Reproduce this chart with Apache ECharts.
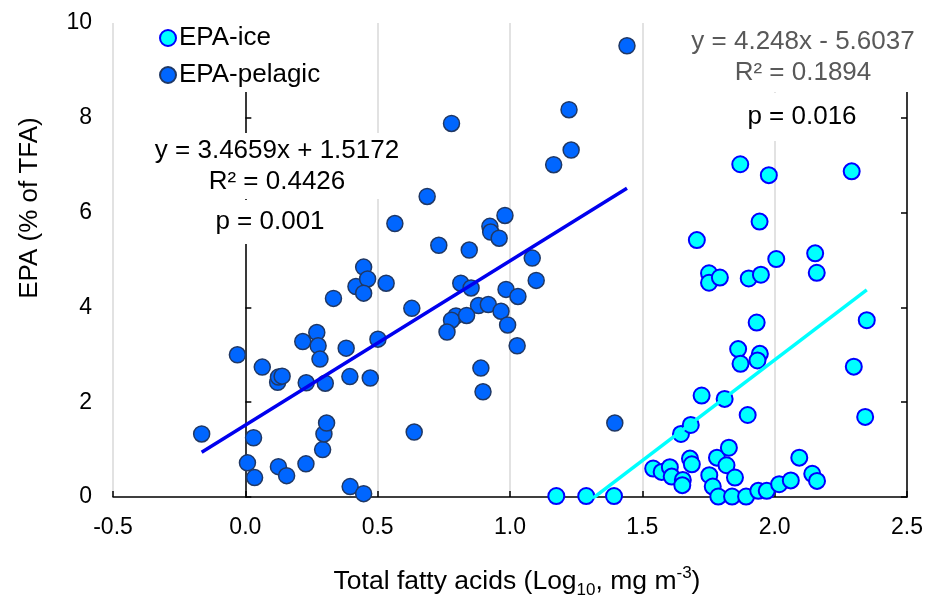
<!DOCTYPE html>
<html>
<head>
<meta charset="utf-8">
<title>EPA vs total fatty acids</title>
<script src="https://cdn.jsdelivr.net/npm/echarts@6/dist/echarts.min.js"></script>
<style>
  html, body { margin: 0; padding: 0; background: #fff; }
  #chart { width: 926px; height: 604px; }
</style>
</head>
<body>
<div id="chart"></div>
<script>
// EPA-pelagic: x = log10 TFA, y = EPA %
const pelagicX = [-0.165, -0.03, 0.031, 0.008, 0.035, 0.064, 0.122, 0.125, 0.139, 0.125, 0.156, 0.229,
  0.217, 0.270, 0.275, 0.282, 0.230, 0.302, 0.333, 0.292, 0.297, 0.307, 0.381, 0.395, 0.396, 0.447,
  0.472, 0.501, 0.447, 0.418, 0.462, 0.447, 0.532, 0.629, 0.638, 1.442, 1.223, 1.231, 1.165, 0.779,
  0.687, 0.565, 0.731, 0.846, 0.981, 0.924, 0.927, 0.959, 1.084, 1.099, 0.814, 0.853, 0.985, 1.030,
  0.881, 0.918, 0.796, 0.779, 0.836, 0.762, 0.966, 0.991, 1.027, 0.890, 0.898, 1.396];
const pelagicY = [1.33, 3.00, 1.25, 0.72, 0.41, 2.74, 2.42, 2.53, 2.55, 0.64, 0.45, 0.70,
  3.28, 3.47, 3.19, 2.91, 2.41, 2.40, 4.19, 1.00, 1.33, 1.56, 3.14, 2.54, 0.22, 0.07,
  2.51, 3.33, 4.85, 4.44, 4.60, 4.30, 4.51, 3.98, 1.37, 9.52, 8.17, 7.32, 7.01, 7.88,
  6.34, 5.77, 5.31, 5.21, 5.94, 5.71, 5.59, 5.46, 5.04, 4.57, 4.51, 4.41, 4.38, 4.23,
  4.04, 4.06, 3.82, 3.73, 3.83, 3.48, 3.92, 3.63, 3.19, 2.72, 2.22, 1.56];

// EPA-ice
const iceX = [1.175, 1.288, 1.393, 1.541, 1.573, 1.604, 1.611, 1.653, 1.651, 1.680, 1.687, 1.646,
  1.683, 1.724, 1.811, 1.898, 1.782, 1.818, 1.827, 1.753, 1.766, 1.787, 1.839, 1.850, 1.892,
  1.938, 1.970, 2.017, 2.061, 2.093, 2.142, 2.160, 2.342, 2.299, 2.348, 1.862, 1.944, 1.871,
  1.935, 1.932, 1.706, 1.752, 1.752, 1.793, 1.902, 1.948, 2.006, 2.153, 2.159, 1.943, 1.870,
  1.978, 2.291];
const iceY = [0.02, 0.02, 0.02, 0.60, 0.53, 0.63, 0.43, 0.36, 0.25, 0.81, 0.69, 1.33,
  1.52, 2.14, 2.07, 1.73, 0.83, 0.67, 1.04, 0.46, 0.22, 0.01, 0.01, 0.41, 0.01,
  0.13, 0.13, 0.27, 0.35, 0.83, 0.49, 0.34, 1.69, 2.75, 3.73, 3.12, 3.02, 2.81,
  2.88, 3.68, 5.42, 4.72, 4.52, 4.63, 4.61, 4.69, 5.02, 5.14, 4.73, 5.81, 7.02,
  6.79, 6.87];

// linear trend lines (slope, intercept) as given on the chart
const pelagicFit = [3.4659, 1.5172];
const iceFit = [4.248, -5.6037];

const xTicks = { min: -0.5, max: 2.5, interval: 0.5 };
const yTicks = { min: 0, max: 10, interval: 2 };

const FONT = 'Liberation Sans, Arial, sans-serif';

// pair up x / y arrays
const toPoints = (xs, ys) => xs.map((x, i) => [x, ys[i]]);

// trend line from smallest to largest x of the series
const fitLine = (xs, fit) => {
  const lo = Math.min(...xs);
  const hi = Math.max(...xs);
  return [[lo, fit[0] * lo + fit[1]], [hi, fit[0] * hi + fit[1]]];
};

const chart = echarts.init(document.getElementById('chart'));

const option = {
  animation: false,
  grid: { left: 113, right: 19, top: 23, bottom: 106 },

  legend: {
    orient: 'vertical',
    left: 154,
    top: 21,
    itemWidth: 16,
    itemHeight: 16,
    itemGap: 11,
    padding: [4, 8, 4, 5],
    backgroundColor: '#fff',
    data: ['EPA-ice', 'EPA-pelagic'],
    textStyle: { fontFamily: FONT, fontSize: 26, color: '#000', padding: [0, 0, 0, -2] }
  },

  xAxis: {
    type: 'value',
    min: xTicks.min,
    max: xTicks.max,
    interval: xTicks.interval,
    name: 'Total fatty acids (Log{sub|10}, mg m{sup|-3})',
    nameLocation: 'middle',
    nameGap: 68,
    nameTextStyle: {
      fontFamily: FONT, fontSize: 26.5, color: '#000', lineHeight: 34,
      padding: [0, 0, 0, 14],
      rich: {
        sub: { fontFamily: FONT, fontSize: 17, lineHeight: 17, verticalAlign: 'bottom', color: '#000' },
        sup: { fontFamily: FONT, fontSize: 17, lineHeight: 17, verticalAlign: 'top', color: '#000' }
      }
    },
    axisLine: { lineStyle: { color: '#000', width: 1.5 } },
    axisTick: { inside: true, length: 6, lineStyle: { color: '#000', width: 1.5 } },
    axisLabel: {
      margin: 19,
      fontFamily: FONT, fontSize: 23, color: '#000',
      formatter: v => v.toFixed(1)
    },
    splitLine: { show: true, lineStyle: { color: '#d9d9d9', width: 1.5 } }
  },

  yAxis: [
    {
      type: 'value',
      min: yTicks.min,
      max: yTicks.max,
      interval: yTicks.interval,
      axisLine: { show: true, lineStyle: { color: '#000', width: 1.5 } },
      axisTick: { show: true, inside: true, length: 6, lineStyle: { color: '#000', width: 1.5 } },
      axisLabel: { margin: 21, fontFamily: FONT, fontSize: 23, color: '#000' },
      splitLine: { show: false }
    },
    {
      // right frame line with inward ticks, no labels
      type: 'value',
      position: 'right',
      min: yTicks.min,
      max: yTicks.max,
      interval: yTicks.interval,
      axisLine: { show: true, lineStyle: { color: '#000', width: 1.5 } },
      axisTick: { show: true, inside: true, length: 6, lineStyle: { color: '#000', width: 1.5 } },
      axisLabel: { show: false },
      splitLine: { show: false }
    }
  ],

  series: [
    {
      name: 'EPA-ice',
      type: 'scatter',
      symbol: 'circle',
      symbolSize: 16,
      z: 3,
      itemStyle: { color: '#00ffff', borderColor: '#0000ff', borderWidth: 2, opacity: 1 },
      data: toPoints(iceX, iceY)
    },
    {
      name: 'EPA-pelagic',
      type: 'scatter',
      symbol: 'circle',
      symbolSize: 16,
      z: 3,
      itemStyle: { color: '#0066ff', borderColor: '#203864', borderWidth: 1.5, opacity: 1 },
      data: toPoints(pelagicX, pelagicY)
    },
    {
      name: 'pelagic trend',
      type: 'line',
      showSymbol: false,
      clip: true,
      z: 4,
      lineStyle: { color: '#0000ee', width: 3.5 },
      data: fitLine(pelagicX, pelagicFit)
    },
    {
      name: 'ice trend',
      type: 'line',
      showSymbol: false,
      clip: true,
      z: 4,
      lineStyle: { color: '#00ffff', width: 3.5 },
      data: fitLine(iceX, iceFit)
    }
  ],

  // axis title + trend equations, boxed in white like the original labels
  graphic: [
    {
      type: 'text', x: 30, y: 208, rotation: Math.PI / 2, z: 10,
      style: {
        text: 'EPA (% of TFA)',
        font: '26px ' + FONT, fill: '#000',
        align: 'center', verticalAlign: 'middle'
      }
    },
    {
      type: 'text', x: 277, y: 133, z: 10,
      style: {
        text: 'y = 3.4659x + 1.5172\nR² = 0.4426',
        font: '26px ' + FONT, fill: '#000', lineHeight: 31,
        align: 'center', verticalAlign: 'top',
        backgroundColor: '#fff', padding: [2, 4]
      }
    },
    {
      type: 'text', x: 270, y: 200, z: 10,
      style: {
        text: 'p = 0.001',
        font: '26px ' + FONT, fill: '#000', lineHeight: 44,
        align: 'center', verticalAlign: 'top',
        backgroundColor: '#fff', padding: [0, 4]
      }
    },
    {
      type: 'text', x: 803, y: 18, z: 10,
      style: {
        text: 'y = 4.248x - 5.6037\nR² = 0.1894',
        font: '26px ' + FONT, fill: '#595959', lineHeight: 31,
        align: 'center', verticalAlign: 'top',
        backgroundColor: '#fff', padding: [8, 6, 4, 6]
      }
    },
    {
      type: 'text', x: 802, y: 93, z: 10,
      style: {
        text: 'p = 0.016',
        font: '26px ' + FONT, fill: '#000', lineHeight: 48,
        align: 'center', verticalAlign: 'top',
        backgroundColor: '#fff', padding: [0, 6]
      }
    }
  ]
};

chart.setOption(option);
</script>
</body>
</html>
